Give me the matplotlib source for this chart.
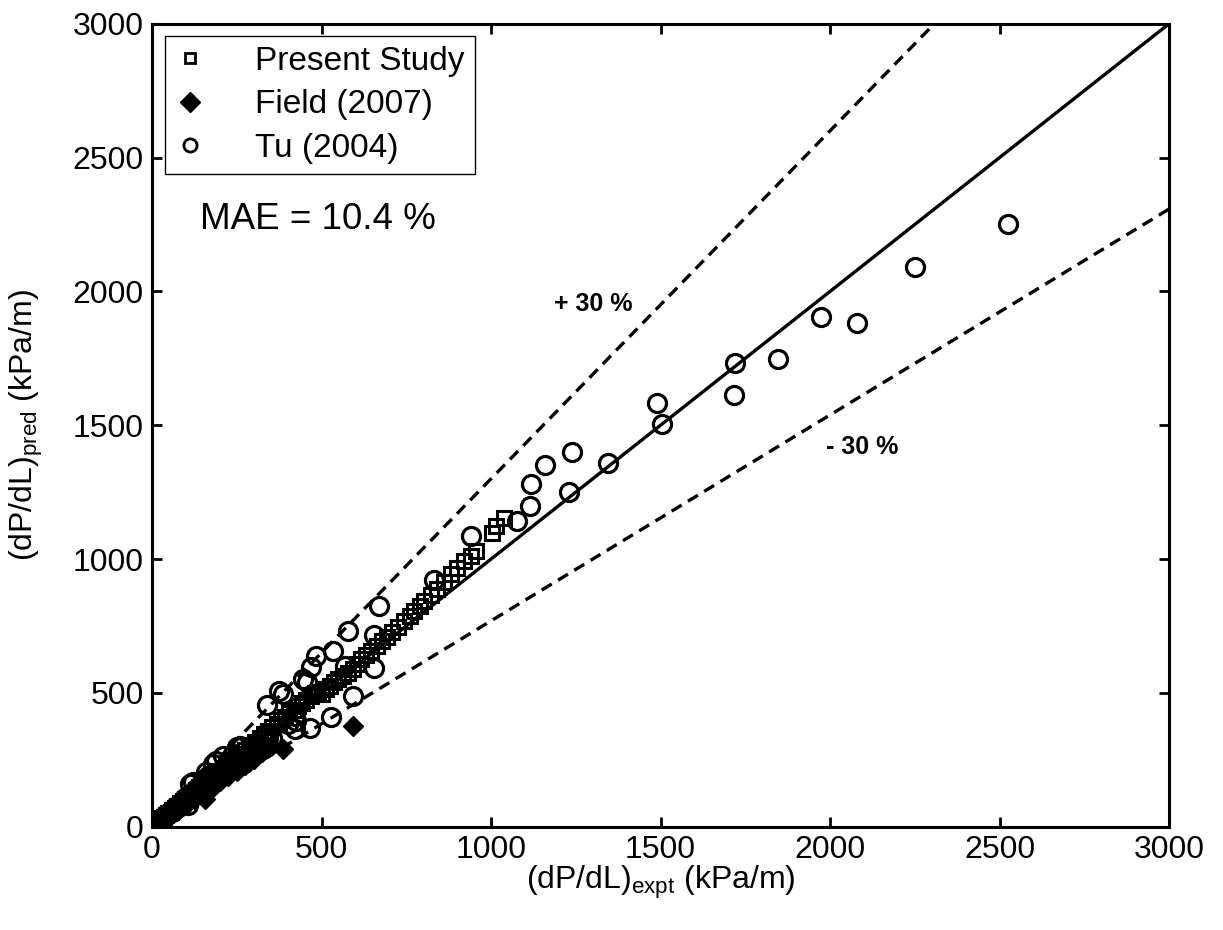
import matplotlib
matplotlib.use('Agg')
import matplotlib.pyplot as plt
from matplotlib.lines import Line2D

plt.rcParams['font.family'] = ['Liberation Sans', 'DejaVu Sans']

# Present Study (open squares)
ps_x = [5, 8, 12, 15, 20, 25, 30, 35, 42, 48, 55, 60, 68, 75, 82, 90, 98, 105,
        112, 120, 130, 140, 150, 160, 170, 180, 190, 200, 210, 220, 230, 240,
        250, 262, 275, 285, 295, 305, 318, 330, 342, 355, 368, 380, 392, 405,
        418, 430, 442, 455, 468, 480, 490, 500, 514, 526, 538, 550, 562, 577,
        592, 605, 617, 632, 647, 663, 679, 694, 709, 727, 744, 760, 774, 790,
        803, 822, 841, 862, 882, 900, 921, 940, 956, 1003, 1014, 1038]
ps_y = [6, 10, 13, 16, 22, 27, 32, 37, 44, 50, 57, 63, 71, 78, 87, 95, 103, 110,
        117, 125, 136, 147, 157, 168, 178, 188, 199, 210, 220, 230, 240, 250,
        262, 272, 287, 297, 307, 318, 333, 345, 358, 372, 385, 398, 410, 425,
        438, 450, 462, 475, 488, 500, 505, 495, 514, 527, 540, 552, 563, 576,
        589, 607, 626, 641, 656, 675, 693, 710, 727, 748, 768, 786, 805, 823,
        842, 865, 887, 915, 943, 967, 991, 1010, 1029, 1099, 1122, 1155]

# Field (2007) (filled diamonds)
field_x = [5, 10, 20, 30, 45, 60, 80, 100, 125, 150, 156, 180, 200, 225, 250,
           275, 300, 325, 350, 385, 594]
field_y = [4, 8, 17, 25, 38, 50, 68, 85, 105, 125, 104, 150, 170, 190, 210,
           232, 255, 278, 300, 291, 375]

# Tu (2004) (open circles)
tu_x = [3, 5, 8, 12, 16, 20, 25, 30, 38, 45, 52, 60, 68, 75, 82, 90, 95, 100,
        105, 112, 121, 130, 140, 150, 160, 165, 175, 180, 190, 200, 208, 215,
        222, 230, 240, 250, 259, 270, 280, 292, 303, 315, 327, 332, 338, 341,
        355, 376, 386, 400, 421, 421, 426, 444, 456, 465, 470, 484, 529, 533,
        568, 577, 592, 656, 656, 671, 832, 941, 1077, 1114, 1118, 1159, 1229,
        1239, 1344, 1491, 1503, 1718, 1720, 1847, 1974, 2079, 2250, 2524]
tu_y = [11, 5, 10, 15, 18, 25, 22, 30, 45, 45, 55, 55, 75, 70, 80, 85, 105, 110,
        80, 160, 168, 140, 150, 175, 205, 190, 180, 235, 245, 200, 265, 215,
        240, 230, 270, 298, 302, 240, 260, 275, 309, 300, 291, 347, 455, 330,
        330, 507, 496, 385, 414, 365, 395, 551, 542, 368, 598, 637, 410, 656,
        600, 730, 488, 715, 593, 824, 922, 1085, 1144, 1197, 1282, 1353, 1252,
        1401, 1360, 1584, 1506, 1614, 1733, 1748, 1905, 1882, 2091, 2251]

labels = ['Present Study', 'Field (2007)', 'Tu (2004)']
lim = [0, 3000]
band = 1.3

fig = plt.figure(figsize=(12.23, 9.3), dpi=100)
ax = fig.add_axes([0.1243, 0.111, 0.8316, 0.8635])

# reference lines
ax.plot(lim, lim, 'k-', lw=2.4)
ax.plot([0, lim[1] / band], [0, lim[1]], 'k--', lw=2.4, dashes=(3.5, 2.2))
ax.plot(lim, [0, lim[1] / band], 'k--', lw=2.4, dashes=(3.5, 2.2))

ax.plot(ps_x, ps_y, 's', ms=9.5, mfc='none', mec='k', mew=2.2)
ax.plot(field_x, field_y, 'D', ms=10.5, mfc='k', mec='k', mew=1)
ax.plot(tu_x, tu_y, 'o', ms=13, mfc='none', mec='k', mew=2.3)

ax.set_xlim(lim)
ax.set_ylim(lim)
ax.set_xticks(range(0, 3001, 500))
ax.set_yticks(range(0, 3001, 500))
ax.tick_params(direction='in', length=7, width=2, top=True, right=True,
               labelsize=23, pad=6)
for s in ax.spines.values():
    s.set_linewidth(2.2)

ax.set_xlabel('(dP/dL)$_\\mathregular{expt}$ (kPa/m)', fontsize=23, labelpad=-1)
ax.set_ylabel('(dP/dL)$_\\mathregular{pred}$ (kPa/m)', fontsize=23, labelpad=20)

ax.text(142, 2267, 'MAE = 10.4 %', fontsize=26.5, va='center', ha='left')
ax.text(1301, 1954, '+ 30 %', fontsize=18, fontweight='bold', ha='center', va='center')
ax.text(2094, 1420, '- 30 %', fontsize=18, fontweight='bold', ha='center', va='center')

# smaller markers in the legend, like the original
handles = [Line2D([], [], ls='none', marker='s', ms=7.5, mfc='none', mec='k', mew=2),
           Line2D([], [], ls='none', marker='D', ms=10, mfc='k', mec='k'),
           Line2D([], [], ls='none', marker='o', ms=9.5, mfc='none', mec='k', mew=2)]
leg = ax.legend(handles, labels,
                loc='upper left', bbox_to_anchor=(0.0128, 0.985), borderaxespad=0,
                fontsize=24, fancybox=False, framealpha=1, edgecolor='k',
                handlelength=0.9, handletextpad=1.5, labelspacing=0.38,
                borderpad=0.3)
leg.get_frame().set_linewidth(1)

fig.savefig('out.png', dpi=100)
